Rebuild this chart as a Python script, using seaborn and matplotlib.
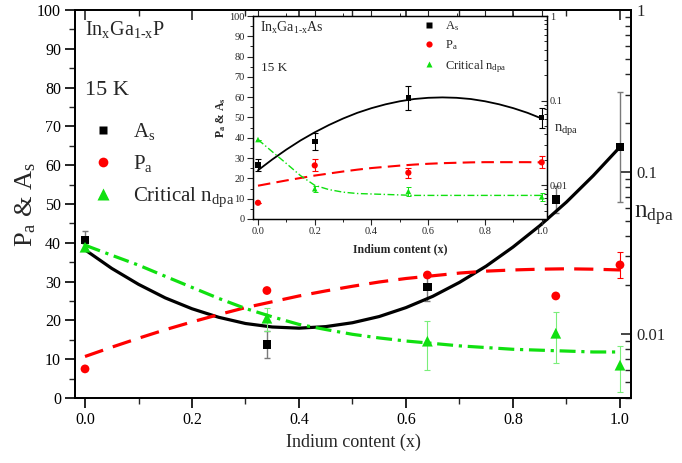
import numpy as np
import pandas as pd
import matplotlib
matplotlib.use("Agg")
import matplotlib.pyplot as plt
import seaborn as sns
from matplotlib.lines import Line2D
from matplotlib.ticker import MultipleLocator, LogLocator, FixedLocator, FixedFormatter, NullFormatter

sns.set_style("ticks")
plt.rcParams["font.family"] = ["Liberation Serif", "DejaVu Serif"]
plt.rcParams["mathtext.fontset"] = "custom"
plt.rcParams["mathtext.rm"] = "Liberation Serif"
plt.rcParams["mathtext.it"] = "Liberation Serif:italic"
plt.rcParams["mathtext.bf"] = "Liberation Serif:bold"

# ---------------- main chart data (InGaP) ----------------
x_main = [0.0, 0.34, 0.64, 0.88, 1.0]
as_main = [40.7, 13.8, 28.6, 51.2, 64.7]
as_main_err = [2.3, 3.4, 3.5, 3.5, 14.2]
pa_main = [7.5, 27.7, 31.7, 26.3, 34.3]
pa_main_err = [0.0, 0.0, 0.0, 0.0, 3.4]
ndpa_main = [0.0342, 0.01245, 0.00898, 0.01005, 0.00638]
ndpa_main_err = [0.0015, 0.002, 0.003, 0.0035, 0.002]

fit_x = [0.0, 0.05, 0.1, 0.15, 0.2, 0.25, 0.3, 0.35, 0.4, 0.45, 0.5,
         0.55, 0.6, 0.65, 0.7, 0.75, 0.8, 0.85, 0.9, 0.95, 1.0]
as_fit_main = [38.2, 33.4, 29.3, 25.8, 23.0, 20.8, 19.2, 18.3, 18.0, 18.4, 19.4,
               21.0, 23.3, 26.2, 29.8, 34.0, 38.9, 44.4, 50.5, 57.3, 64.7]
pa_fit_main = [10.7, 13.1, 15.4, 17.6, 19.6, 21.5, 23.3, 24.8, 26.3, 27.6, 28.8,
               29.9, 30.8, 31.5, 32.2, 32.7, 33.0, 33.2, 33.3, 33.2, 33.0]
ndpa_fit_main = [0.0352, 0.0305, 0.0265, 0.0226, 0.0193, 0.0165, 0.0143, 0.0127,
                 0.0114, 0.0106, 0.0099, 0.0094, 0.0090, 0.0087, 0.0084, 0.0082,
                 0.0080, 0.0079, 0.0078, 0.0077, 0.0077]

# ---------------- inset data (InGaAs) ----------------
x_in = [0.0, 0.2, 0.53, 1.0]
as_in = [26.6, 38.2, 59.5, 49.9]
as_in_err = [2.9, 4.0, 5.8, 4.9]
pa_in = [8.0, 26.4, 22.8, 27.9]
pa_in_err = [0.0, 3.0, 2.5, 3.0]
ndpa_in = [0.0347, 0.0091, 0.0085, 0.0073]
ndpa_in_err = [0.0, 0.0008, 0.001, 0.0008]

as_fit_in = [24.0, 29.3, 34.2, 38.7, 42.7, 46.3, 49.5, 52.3, 54.6, 56.5, 58.0,
             59.1, 59.7, 59.9, 59.7, 59.1, 58.0, 56.5, 54.6, 52.3, 49.5]
pa_fit_in = [16.4, 17.7, 19.0, 20.2, 21.4, 22.4, 23.4, 24.3, 25.1, 25.7, 26.3,
             26.8, 27.2, 27.5, 27.7, 27.9, 28.0, 28.0, 28.0, 28.0, 27.9]
ndpa_fit_in = [0.0347, 0.0250, 0.0181, 0.0130, 0.0100, 0.0089, 0.0083, 0.0080,
               0.0079, 0.0078, 0.0077, 0.0076, 0.0076, 0.0076, 0.0076, 0.0076,
               0.0076, 0.0076, 0.0076, 0.0076, 0.0076]

xticks = [0.0, 0.2, 0.4, 0.6, 0.8, 1.0]
xtick_labels = ["0.0", "0.2", "0.4", "0.6", "0.8", "1.0"]
rticks = [0.01, 0.1, 1]
rtick_labels = ["0.01", "0.1", "1"]

RED = "#ff0000"
GREEN = "#10e010"
GREEN_ERR = "#7aee7a"

W, H = 682, 463
fig = plt.figure(figsize=(W / 100, H / 100), dpi=100)

def fx(px):
    return px / W

def fy(py):
    return 1 - py / H

# ---------------- main axes ----------------
ax = fig.add_axes([fx(75), fy(398), (631 - 75) / W, (398 - 10) / H])
ax2 = ax.twinx()

sns.lineplot(x=fit_x, y=as_fit_main, ax=ax, color="black", lw=2.3,
             estimator=None, sort=False, zorder=3)
sns.lineplot(x=fit_x, y=pa_fit_main, ax=ax, color=RED, lw=2.3,
             linestyle=(0, (6, 3.2)), estimator=None, sort=False, zorder=3)
ax.errorbar(x_main, as_main, yerr=as_main_err, fmt="none", ecolor="#7a7a7a",
            elinewidth=1.0, capsize=2.5, capthick=1.0, zorder=2)
ax.errorbar(x_main, pa_main, yerr=pa_main_err, fmt="none", ecolor=RED,
            elinewidth=0.8, capsize=2.5, capthick=0.8, zorder=2)
sns.scatterplot(x=x_main, y=as_main, ax=ax, marker="s", color="black", s=36,
                edgecolor="none", zorder=4)
sns.scatterplot(x=x_main, y=pa_main, ax=ax, marker="o", color=RED, s=40,
                edgecolor="none", zorder=4)

sns.lineplot(x=fit_x, y=ndpa_fit_main, ax=ax2, color=GREEN, lw=2.3,
             linestyle=(0, (5, 1.8, 1, 1.8)), estimator=None, sort=False, zorder=3)
ax2.errorbar(x_main, ndpa_main, yerr=ndpa_main_err, fmt="none", ecolor=GREEN_ERR,
             elinewidth=0.8, capsize=2.5, capthick=0.8, zorder=2)
sns.scatterplot(x=x_main, y=ndpa_main, ax=ax2, marker="^", color=GREEN, s=60,
                edgecolor="none", zorder=4)

ax.set_xlim(-0.0187, 1.0206)
ax.set_ylim(0, 100)
ax2.set_yscale("log")
ax2.set_ylim(0.004, 1)

for a in (ax, ax2):
    for sp in a.spines.values():
        sp.set_linewidth(1.3)
        sp.set_color("black")

ax.xaxis.set_major_locator(FixedLocator(xticks))
ax.xaxis.set_major_formatter(FixedFormatter(xtick_labels))
ax.xaxis.set_minor_locator(MultipleLocator(0.1))
ax.yaxis.set_major_locator(MultipleLocator(10))
ax.yaxis.set_minor_locator(MultipleLocator(5))
ax.tick_params(axis="both", which="major", direction="out", length=7, width=1.2,
               labelsize=11.5, pad=3, colors="black")
ax.tick_params(axis="both", which="minor", direction="out", length=4, width=1.0)
ax.tick_params(right=False, top=False, which="both")

# top ticks via twin's x axis (inward)
ax2.xaxis.set_visible(True)
ax2.tick_params(axis="x", which="both", direction="in", top=True, bottom=False,
                labeltop=False, labelbottom=False)
ax2.tick_params(axis="x", which="major", length=7, width=1.2)
ax2.tick_params(axis="x", which="minor", length=4, width=1.0)

ax2.yaxis.set_major_locator(FixedLocator(rticks))
ax2.yaxis.set_major_formatter(FixedFormatter(rtick_labels))
ax2.yaxis.set_minor_locator(LogLocator(base=10, subs=np.arange(2, 10) * 1.0, numticks=20))
ax2.yaxis.set_minor_formatter(NullFormatter())
ax2.tick_params(axis="y", which="major", direction="in", length=7, width=1.2,
                labelsize=12, pad=4)
ax2.tick_params(axis="y", which="minor", direction="in", length=4, width=1.0)

ax.set_xlabel("Indium content (x)", fontsize=13, labelpad=4)
ax.set_ylabel(r"$\mathrm{P_a}$ & $\mathrm{A_s}$", fontsize=19)
ax.yaxis.set_label_coords(-0.066, 0.5)
ax2.set_ylabel(r"$\mathrm{n_{dpa}}$", fontsize=18, rotation=0, ha="left", va="center")
ax2.yaxis.set_label_coords(1.005, 0.47)

ax.text(fx(85), fy(35), r"$\mathrm{In_xGa_{1‐x}P}$", transform=fig.transFigure,
        fontsize=14.5, va="baseline", ha="left")
ax.text(fx(85), fy(95), "15 K", transform=fig.transFigure,
        fontsize=16, va="baseline", ha="left")

handles = [
    Line2D([], [], ls="none", marker="s", color="black", ms=6.2, mec="none"),
    Line2D([], [], ls="none", marker="o", color=RED, ms=7, mec="none"),
    Line2D([], [], ls="none", marker="^", color=GREEN, ms=8.5, mec="none"),
]
labels = [r"$\mathrm{A_s}$", r"$\mathrm{P_a}$", r"Critical $\mathrm{n_{dpa}}$"]
ax2.legend(handles, labels, loc="upper left", bbox_to_anchor=(0.032, 0.714),
           frameon=False, fontsize=15, borderpad=0, handlelength=1.0,
           handletextpad=0.95, labelspacing=0.55, borderaxespad=0)

# ---------------- inset axes ----------------
ax_in = fig.add_axes([fx(253), fy(219), (547 - 253) / W, (219 - 16) / H])
ax_in.set_zorder(10)
ax_in.patch.set_facecolor("white")
ax_in2 = ax_in.twinx()
ax_in2.set_zorder(11)

sns.lineplot(x=fit_x, y=as_fit_in, ax=ax_in, color="black", lw=1.3,
             estimator=None, sort=False, zorder=3)
sns.lineplot(x=fit_x, y=pa_fit_in, ax=ax_in, color=RED, lw=1.5,
             linestyle=(0, (6, 3)), estimator=None, sort=False, zorder=3)
ax_in.errorbar(x_in, as_in, yerr=as_in_err, fmt="none", ecolor="black",
               elinewidth=0.8, capsize=2.0, capthick=0.8, zorder=2)
ax_in.errorbar(x_in, pa_in, yerr=pa_in_err, fmt="none", ecolor=RED,
               elinewidth=0.8, capsize=2.0, capthick=0.8, zorder=2)
sns.scatterplot(x=x_in, y=as_in, ax=ax_in, marker="s", color="black", s=16,
                edgecolor="none", zorder=4)
sns.scatterplot(x=x_in, y=pa_in, ax=ax_in, marker="o", color=RED, s=20,
                edgecolor="none", zorder=4)

sns.lineplot(x=fit_x, y=ndpa_fit_in, ax=ax_in2, color=GREEN, lw=1.0,
             linestyle=(0, (5, 1.8, 1, 1.8)), estimator=None, sort=False, zorder=3)
ax_in2.errorbar(x_in, ndpa_in, yerr=ndpa_in_err, fmt="none", ecolor=GREEN,
                elinewidth=0.7, capsize=1.8, capthick=0.7, zorder=2)
sns.scatterplot(x=x_in, y=ndpa_in, ax=ax_in2, marker="^", color=GREEN, s=16,
                edgecolor="none", zorder=4)

ax_in.set_xlim(-0.0176, 1.0187)
ax_in.set_ylim(0, 100)
ax_in2.set_yscale("log")
ax_in2.set_ylim(0.004, 1)

for a in (ax_in, ax_in2):
    for sp in a.spines.values():
        sp.set_linewidth(0.9)
        sp.set_color("black")

ax_in.xaxis.set_major_locator(FixedLocator(xticks))
ax_in.xaxis.set_major_formatter(FixedFormatter(xtick_labels))
ax_in.xaxis.set_minor_locator(MultipleLocator(0.1))
ax_in.yaxis.set_major_locator(MultipleLocator(10))
ax_in.yaxis.set_minor_locator(MultipleLocator(5))
ax_in.tick_params(axis="both", which="major", direction="out", length=4, width=0.8,
                  labelsize=7.5, pad=2)
ax_in.tick_params(axis="both", which="minor", direction="out", length=2.2, width=0.7)
ax_in.tick_params(axis="x", which="both", top=True)
ax_in.tick_params(right=False, which="both")

ax_in2.yaxis.set_major_locator(FixedLocator(rticks))
ax_in2.yaxis.set_major_formatter(FixedFormatter(rtick_labels))
ax_in2.yaxis.set_minor_locator(LogLocator(base=10, subs=np.arange(2, 10) * 1.0, numticks=20))
ax_in2.yaxis.set_minor_formatter(NullFormatter())
ax_in2.tick_params(axis="y", which="major", direction="in", length=4, width=0.8,
                   labelsize=7.5, pad=2)
ax_in2.tick_params(axis="y", which="minor", direction="in", length=2.2, width=0.7)

ax_in.set_xlabel("Indium content (x)", fontsize=8.5, fontweight="bold", labelpad=5)
ax_in.set_ylabel(r"$\mathbf{P_a}$ & $\mathbf{A_s}$", fontsize=8.5, fontweight="bold", labelpad=1)
ax_in2.set_ylabel(r"$\mathrm{n_{dpa}}$", fontsize=10.5, rotation=0, ha="left", va="center")
ax_in2.yaxis.set_label_coords(1.025, 0.44)

ax_in.text(0.025, 0.92, r"$\mathrm{In_xGa_{1‐x}As}$", transform=ax_in.transAxes,
           fontsize=10, va="baseline", ha="left")
ax_in.text(0.027, 0.73, "15 K", transform=ax_in.transAxes,
           fontsize=9.5, va="baseline", ha="left")

handles_in = [
    Line2D([], [], ls="none", marker="s", color="black", ms=4, mec="none"),
    Line2D([], [], ls="none", marker="o", color=RED, ms=4.5, mec="none"),
    Line2D([], [], ls="none", marker="^", color=GREEN, ms=4.5, mec="none"),
]
ax_in2.legend(handles_in, labels, loc="upper left", bbox_to_anchor=(0.578, 0.985),
              frameon=False, fontsize=9, borderpad=0, handlelength=1.0,
              handletextpad=0.8, labelspacing=0.45, borderaxespad=0)

fig.savefig("out.png", dpi=100)
